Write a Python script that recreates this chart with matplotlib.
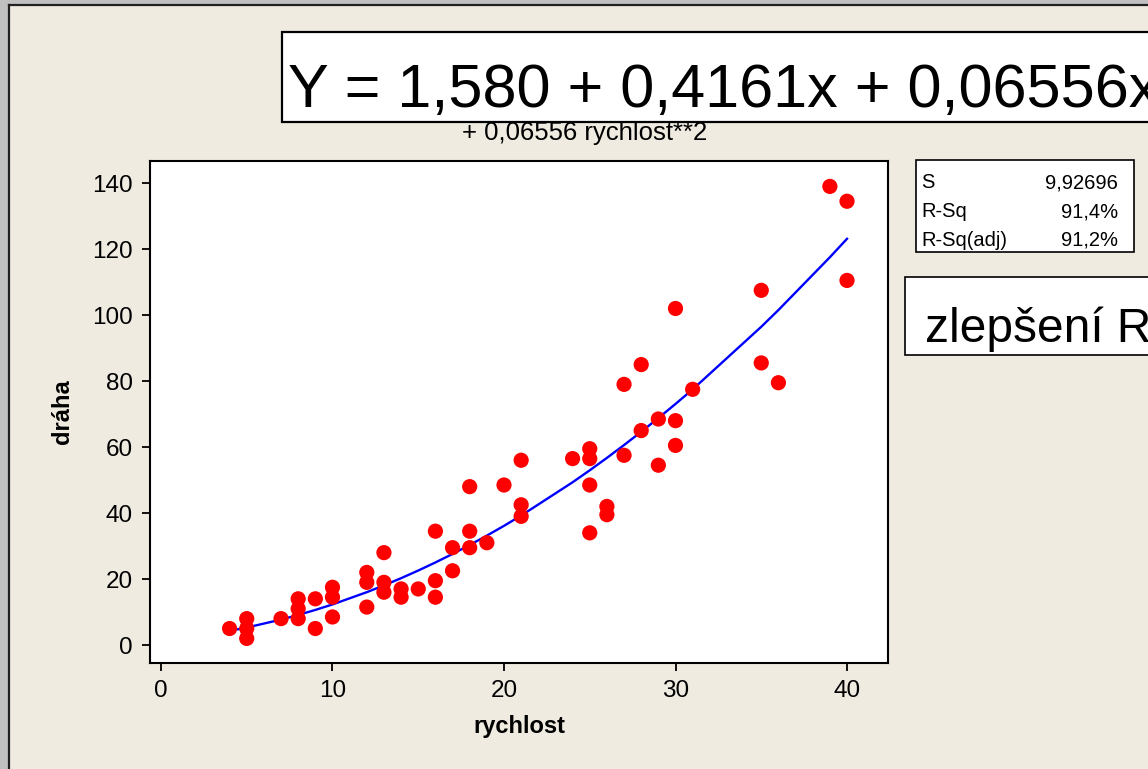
import numpy as np
import matplotlib
matplotlib.use("Agg")
import matplotlib.pyplot as plt
from matplotlib.patches import Rectangle
from matplotlib.lines import Line2D

plt.rcParams["font.family"] = ["Liberation Sans", "DejaVu Sans"]

# speed vs. stopping distance
rychlost = [4, 5, 5, 5, 7, 8, 8, 8, 9, 9, 10, 10, 10, 12, 12, 12, 13, 13, 13,
            14, 14, 15, 16, 16, 16, 17, 17, 18, 18, 18, 19, 20, 21, 21, 21,
            24, 25, 25, 25, 25, 26, 26, 27, 27, 28, 28, 29, 29, 30, 30, 30,
            31, 35, 35, 36, 39, 40, 40]
draha = [5, 8, 5, 2, 8, 14, 11, 8, 14, 5, 17.5, 14.5, 8.5, 22, 19, 11.5, 28, 19, 16,
         17, 14.5, 17, 34.5, 19.5, 14.5, 29.5, 22.5, 48, 34.5, 29.5, 31, 48.5, 56, 42.5, 39,
         56.5, 59.5, 56.5, 48.5, 34, 42, 39.5, 79, 57.5, 85, 65, 68.5, 54.5, 102, 68, 60.5,
         77.5, 107.5, 85.5, 79.5, 139, 134.5, 110.5]

# quadratic fit coefficients and summary
b0, b1, b2 = 1.580, 0.4161, 0.06556
stat_names = ["S", "R-Sq", "R-Sq(adj)"]
stat_values = ["9,92696", "91,4%", "91,2%"]

W, H = 1148, 769
BEIGE = "#EFEBE1"

fig = plt.figure(figsize=(W / 100, H / 100), dpi=100, facecolor=BEIGE)


def fx(px):
    return px / W


def fy(py):
    return 1 - py / H


# window frame on the left and top
fig.patches.append(Rectangle((0, 0), fx(8), 1, transform=fig.transFigure,
                             facecolor="#C0C0C0", edgecolor="none", zorder=0))
fig.patches.append(Rectangle((0, fy(4)), 1, 4 / H, transform=fig.transFigure,
                             facecolor="#C0C0C0", edgecolor="none", zorder=0))
fig.lines.append(Line2D([fx(9), fx(9)], [0, fy(4.5)], transform=fig.transFigure,
                        color="#202020", lw=1.6))
fig.lines.append(Line2D([fx(9), 1], [fy(4.5), fy(4.5)], transform=fig.transFigure,
                        color="#202020", lw=1.6))

ax = fig.add_axes([fx(150), fy(663), fx(888) - fx(150), fy(161) - fy(663)])
ax.set_facecolor("white")

xf = np.array(sorted(set(rychlost)), dtype=float)
yf = b0 + b1 * xf + b2 * xf ** 2
ax.plot(xf, yf, color="#0000FF", lw=1.7, zorder=2)
ax.scatter(rychlost, draha, s=120, color="#FF0000", edgecolors="none", zorder=3)

ax.set_xlim(-0.64, 42.39)
ax.set_ylim(-5.45, 146.7)
ax.set_xticks([0, 10, 20, 30, 40])
ax.set_yticks([0, 20, 40, 60, 80, 100, 120, 140])
ax.tick_params(direction="out", length=5.5, width=1.3, labelsize=17.5, pad=7, colors="black")
for sp in ax.spines.values():
    sp.set_linewidth(1.5)

ax.set_xlabel("rychlost", fontsize=17, fontweight="bold")
ax.set_ylabel("dráha", fontsize=17, fontweight="bold")
ax.xaxis.set_label_coords(0.5, (663 - 727) / 502)
ax.xaxis.label.set_va("center")
ax.yaxis.set_label_coords((62 - 150) / 738, 0.5)
ax.yaxis.label.set_va("center")

# title line partly hidden by the equation box
fig.text(fx(585), fy(140), "+ 0,06556 rychlost**2", fontsize=18.5,
         ha="center", va="baseline", zorder=1)

# equation box
fig.patches.append(Rectangle((fx(282), fy(122)), 1, 90 / H, transform=fig.transFigure,
                             facecolor="white", edgecolor="black", lw=1.6, zorder=4))
fig.text(fx(288), fy(107), "Y = 1,580 + 0,4161x + 0,06556x", fontsize=44,
         ha="left", va="baseline", zorder=5)

# summary statistics box
fig.patches.append(Rectangle((fx(916), fy(252)), (1134 - 916) / W, 92 / H,
                             transform=fig.transFigure, facecolor="white",
                             edgecolor="black", lw=1.2, zorder=4))
for i, (name, val) in enumerate(zip(stat_names, stat_values)):
    yc = fy(183 + 28.5 * i)
    fig.text(fx(921), yc, name, fontsize=14.5, ha="left", va="center", zorder=5)
    fig.text(fx(1118), yc, val, fontsize=14.5, ha="right", va="center", zorder=5)

# note box
fig.patches.append(Rectangle((fx(905), fy(355)), 1, 78 / H, transform=fig.transFigure,
                             facecolor="white", edgecolor="black", lw=1.2, zorder=4))
fig.text(fx(925), fy(342), "zlepšení R", fontsize=34.5, ha="left", va="baseline", zorder=5)

fig.savefig("out.png", dpi=100, facecolor=BEIGE)
